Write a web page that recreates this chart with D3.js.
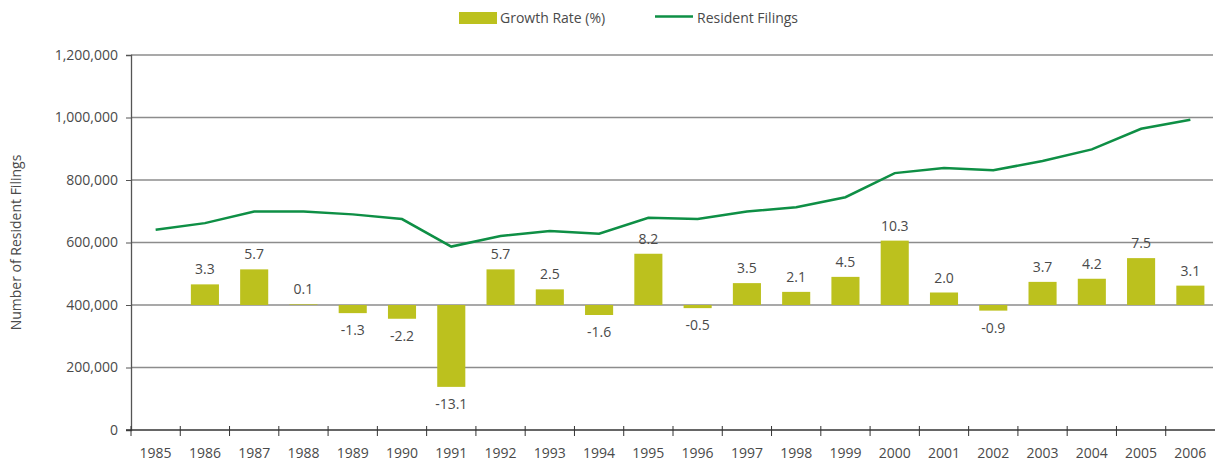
<!DOCTYPE html>
<html>
<head>
	<script src="https://cdn.jsdelivr.net/npm/d3@7/dist/d3.min.js"></script>
	<style>
		html, body {
			padding: 0;
			margin: 0;
			background: white;
		}
		svg text {
			font-family: "Open Sans", sans-serif;
			fill: #4a4a4a;
		}
	</style>
</head>
<body>
	<div id="chart"></div>
	<script>
		var years = ["1985", "1986", "1987", "1988", "1989", "1990", "1991", "1992", "1993", "1994", "1995",
			"1996", "1997", "1998", "1999", "2000", "2001", "2002", "2003", "2004", "2005", "2006"];
		var filings = [641000, 662000, 699000, 699000, 690000, 675000, 587000, 621000, 637000, 628000, 679000,
			675000, 699000, 713000, 745000, 822000, 838000, 831000, 861000, 898000, 964000, 993000];
		var growth = [null, 3.3, 5.7, 0.1, -1.3, -2.2, -13.1, 5.7, 2.5, -1.6, 8.2,
			-0.5, 3.5, 2.1, 4.5, 10.3, 2.0, -0.9, 3.7, 4.2, 7.5, 3.1];
		var yTicks = [0, 200000, 400000, 600000, 800000, 1000000, 1200000];

		var width = 1216, height = 466;
		var margin = {left: 131, right: 1, top: 55, bottom: 36};

		var svg = d3.select('#chart').append('svg')
			.attr('width', width)
			.attr('height', height);

		var x = d3.scaleBand().domain(years)
			.range([margin.left, width - margin.right])
			.paddingInner(0.43).paddingOuter(0.215);
		var xc = d3.scaleBand().domain(years).range([margin.left, width - margin.right]);

		var y = d3.scaleLinear().domain([0, 1200000]).range([height - margin.bottom, margin.top]);
		// hidden secondary axis for the growth bars
		var y2 = d3.scaleLinear().domain([-20, 40]).range([height - margin.bottom, margin.top]);

		// gridlines
		svg.append('g').selectAll('line')
			.data(yTicks.slice(1))
			.enter().append('line')
			.attr('x1', margin.left).attr('x2', width - margin.right - 2)
			.attr('y1', function(d) { return y(d); })
			.attr('y2', function(d) { return y(d); })
			.style('stroke', '#8c8c8c').style('stroke-width', 1.3);

		// bars
		svg.append('g').selectAll('rect')
			.data(years.map(function(yr, i) { return {year: yr, v: growth[i]}; }).filter(function(d) { return d.v !== null; }))
			.enter().append('rect')
			.attr('x', function(d) { return x(d.year); })
			.attr('width', x.bandwidth())
			.attr('y', function(d) { return Math.min(y2(d.v), y2(0)); })
			.attr('height', function(d) { return Math.abs(y2(d.v) - y2(0)); })
			.style('fill', '#bcc11e');

		// bar labels
		svg.append('g').selectAll('text')
			.data(years.map(function(yr, i) { return {year: yr, v: growth[i]}; }).filter(function(d) { return d.v !== null; }))
			.enter().append('text')
			.attr('x', function(d) { return x(d.year) + x.bandwidth() / 2; })
			.attr('y', function(d) { return d.v >= 0 ? y2(d.v) - 10 : y2(d.v) + 22; })
			.attr('text-anchor', 'middle')
			.style('font-size', '14px')
			.text(function(d) { return d.v.toFixed(1); });

		// line
		var line = d3.line()
			.x(function(d, i) { return xc(years[i]) + xc.bandwidth() / 2; })
			.y(function(d) { return y(d); });
		svg.append('path')
			.datum(filings)
			.attr('d', line)
			.style('fill', 'none')
			.style('stroke', '#0e8f45')
			.style('stroke-width', 2.5);

		// y axis
		var yAxis = svg.append('g')
			.attr('transform', 'translate(' + margin.left + ',0)')
			.call(d3.axisLeft(y).tickValues(yTicks).tickSize(5).tickPadding(8).tickFormat(d3.format(',')));
		yAxis.select('.domain').style('stroke', '#555').style('stroke-width', 1.3);
		yAxis.selectAll('.tick line').style('stroke', '#555');
		yAxis.selectAll('text').style('font-size', '14px').style('fill', '#4a4a4a');

		// x axis
		var xAxisG = svg.append('g')
			.attr('transform', 'translate(0,' + (height - margin.bottom) + ')');
		xAxisG.append('line')
			.attr('x1', margin.left - 5).attr('x2', width - margin.right)
			.style('stroke', '#333').style('stroke-width', 1.3);
		xAxisG.selectAll('.xt')
			.data(years)
			.enter().append('line')
			.attr('class', 'xt')
			.attr('x1', function(d) { return xc(d); })
			.attr('x2', function(d) { return xc(d); })
			.attr('y1', -4).attr('y2', 6)
			.style('stroke', '#333');
		xAxisG.selectAll('text')
			.data(years)
			.enter().append('text')
			.attr('x', function(d) { return xc(d) + xc.bandwidth() / 2; })
			.attr('y', 28)
			.attr('text-anchor', 'middle')
			.style('font-size', '14px')
			.text(function(d) { return d; });

		// y axis title
		svg.append('text')
			.attr('transform', 'translate(21,' + ((margin.top + height - margin.bottom) / 2) + ') rotate(-90)')
			.attr('text-anchor', 'middle')
			.style('font-size', '14px')
			.text('Number of Resident Filings');

		// legend
		var lg = svg.append('g');
		lg.append('rect').attr('x', 459).attr('y', 12).attr('width', 38).attr('height', 12).style('fill', '#bcc11e');
		lg.append('text').attr('x', 500).attr('y', 23).style('font-size', '14px').text('Growth Rate (%)');
		lg.append('line').attr('x1', 655).attr('x2', 693).attr('y1', 16.5).attr('y2', 16.5)
			.style('stroke', '#0e8f45').style('stroke-width', 2.5);
		lg.append('text').attr('x', 697).attr('y', 23).style('font-size', '14px').text('Resident Filings');
	</script>
</body>
</html>
